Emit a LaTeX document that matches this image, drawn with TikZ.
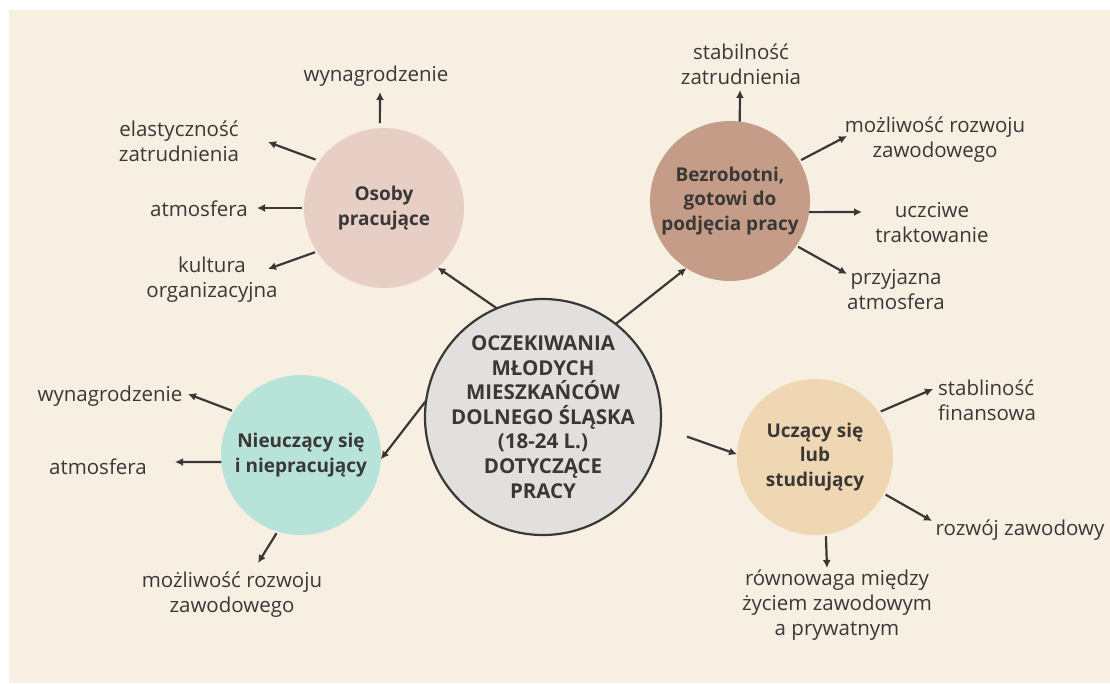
\documentclass[tikz,border=0pt]{standalone}
\usepackage{fontspec}
\setmainfont{Open Sans}
\usetikzlibrary{arrows.meta}
\definecolor{paper}{HTML}{F8EFE3}
\definecolor{ink}{HTML}{3A3836}
\definecolor{pinkfill}{HTML}{E8CFC6}
\definecolor{brownfill}{HTML}{C59C87}
\definecolor{greyfill}{HTML}{E2E0DE}
\definecolor{tealfill}{HTML}{B8E3D9}
\definecolor{tanfill}{HTML}{F0D7B3}
\tikzset{
  disc/.style={circle, minimum size=#1, inner sep=0pt, outer sep=0pt},
  group/.style={text=ink, align=center, inner sep=0pt,
    font=\fontsize{19}{24.5}\selectfont\bfseries},
  hubtext/.style={text=ink, align=center, inner sep=0pt,
    font=\fontsize{20.5}{24.6}\selectfont\bfseries},
  label/.style={text=ink, align=center, inner sep=0pt, font=\fontsize{20.5}{25}\selectfont},
  link/.style={draw=ink, line width=2.2pt, -{Latex[length=8pt,width=8pt]}},
}
\begin{document}
\begin{tikzpicture}[x=1pt,y=-1pt]
  % page and panel
  \fill[white] (0,0) rectangle (1110,683);
  \fill[paper] (9,10) rectangle (1110,683);
  \useasboundingbox (0,0) rectangle (1110,683);

  % circles
  \node[disc=236pt, draw=ink, line width=2.2pt, fill=greyfill] (hub) at (543,417) {};
  \node[hubtext] (hubt) at (hub.center) {OCZEKIWANIA\\MŁODYCH\\MIESZKAŃCÓW\\DOLNEGO ŚLĄSKA\\(18-24 L.)\\DOTYCZĄCE\\PRACY};

  \node[disc=160pt, fill=pinkfill] (work) at (384,208) {};
  \node[group] (workt) at (work.center) {Osoby\\pracujące};

  \node[disc=160pt, fill=brownfill] (unemp) at (730,201) {};
  \node[group] (unempt) at (unemp.center) {Bezrobotni,\\gotowi do\\podjęcia pracy};

  \node[disc=160pt, fill=tealfill] (neet) at (301,455) {};
  \node[group] (neett) at (neet.center) {Nieuczący się\\i niepracujący};

  \node[disc=156pt, fill=tanfill] (learn) at (815,457) {};
  \node[group] (learnt) at (learn.center) {Uczący się\\lub\\studiujący};

  % hub to groups
  \draw[link] (hub.113) -- (work.-48);
  \draw[link] (hub.52) -- (unemp.237);
  \draw[link] (hub.172) -- (neet.-3);
  \draw[link, shorten <=28pt] (hub.-5) -- (learn.178);

  % labels
  \node[label] (w1) at (376,76) {wynagrodzenie};
  \node[label] (w2) at (179,141) {elastyczność\\zatrudnienia};
  \node[label] (w3) at (199,209) {atmosfera};
  \node[label] (w4) at (212,280) {kultura\\organizacyjna};

  \node[label] (u1) at (741,64) {stabilność\\zatrudnienia};
  \node[label] (u2) at (935,140) {możliwość rozwoju\\zawodowego};
  \node[label] (u3) at (932,223) {uczciwe\\traktowanie};
  \node[label] (u4) at (896,290) {przyjazna\\atmosfera};

  \node[label] (n1) at (110,396) {wynagrodzenie};
  \node[label] (n2) at (98,467) {atmosfera};
  \node[label] (n3) at (232,595) {możliwość rozwoju\\zawodowego};

  \node[label, align=left, anchor=west] (l1) at (938,400) {stabliność\\finansowa};
  \node[label] (l2) at (1020,530) {rozwój zawodowy};
  \node[label] (l3) at (837,605) {równowaga między\\życiem zawodowym\\a prywatnym};

  % arrow heads
  \coordinate (hw1) at (380,92);
  \coordinate (hw2) at (268,142);
  \coordinate (hw3) at (257,208);
  \coordinate (hw4) at (268,269);
  \coordinate (hu1) at (740,90);
  \coordinate (hu2) at (847,136);
  \coordinate (hu3) at (862,212);
  \coordinate (hu4) at (847,274);
  \coordinate (hn1) at (188,394);
  \coordinate (hn2) at (175,462);
  \coordinate (hn3) at (258,563);
  \coordinate (hl1) at (933,389);
  \coordinate (hl2) at (932,521);
  \coordinate (hl3) at (827,568);

  % group to labels
  \draw[link, shorten <=5pt] (work.93) -- (hw1);
  \draw[link, shorten <=4pt] (work.144) -- (hw2);
  \draw[link, shorten <=2pt] (work.180) -- (hw3);
  \draw[link, shorten <=2pt] (work.213) -- (hw4);

  \draw[link] (unemp.83) -- (hu1);
  \draw[link, shorten <=2pt] (unemp.30) -- (hu2);
  \draw[link] (unemp.-8) -- (hu3);
  \draw[link, shorten <=2pt] (unemp.-34) -- (hu4);

  \draw[link, shorten <=2pt] (neet.147) -- (hn1);
  \draw[link] (neet.185) -- (hn2);
  \draw[link, shorten <=2pt] (neet.253) -- (hn3);

  \draw[link, shorten <=2pt] (learn.35) -- (hl1);
  \draw[link, shorten <=2pt] (learn.-28) -- (hl2);
  \draw[link, shorten <=2pt] (learn.278) -- (hl3);
\end{tikzpicture}
\end{document}
